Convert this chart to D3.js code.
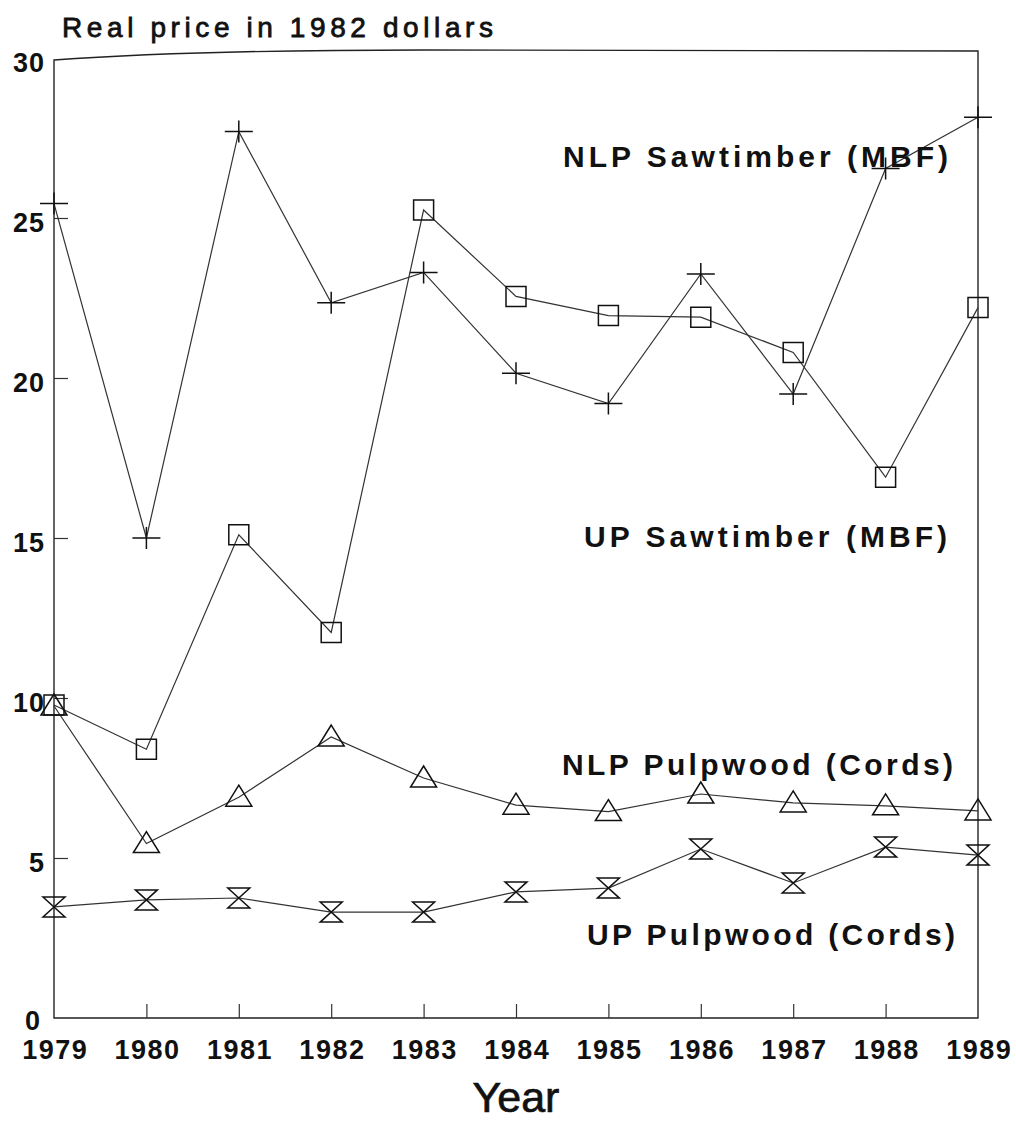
<!DOCTYPE html>
<html>
<head>
<meta charset="utf-8">
<script src="https://cdn.jsdelivr.net/npm/d3@7"></script>
<style>
  body { margin: 0; background: #fff; }
  svg { display: block; font-family: "Liberation Sans", Arial, sans-serif; }
</style>
</head>
<body>
<script>
const years = [1979, 1980, 1981, 1982, 1983, 1984, 1985, 1986, 1987, 1988, 1989];
const nlpSaw  = [25.45, 15.0, 27.7, 22.35, 23.3, 20.15, 19.2, 23.25, 19.5, 26.55, 28.15];
const upSaw   = [9.78, 8.4, 15.1, 12.05, 25.25, 22.55, 21.95, 21.9, 20.8, 16.9, 22.2];
const nlpPulp = [9.75, 5.45, 6.9, 8.78, 7.5, 6.65, 6.45, 7.0, 6.72, 6.63, 6.47];
const upPulp  = [3.47, 3.69, 3.75, 3.31, 3.31, 3.94, 4.06, 5.28, 4.22, 5.34, 5.09];
const yTicks = [0, 5, 10, 15, 20, 25, 30];

const width = 1016, height = 1122;
const svg = d3.select("body").append("svg")
  .attr("width", width)
  .attr("height", height);

svg.append("rect").attr("width", width).attr("height", height).attr("fill", "#fff");

const x = d3.scaleLinear().domain([1979, 1989]).range([54, 978]);
const y = d3.scaleLinear().domain([0, 30]).range([1018, 58]);

// frame (top edge is a bit skewed in the scan)
svg.append("path")
  .attr("d", `M${x(1979)},${y(0)} L${x(1979)},${y(30) + 2} Q${x(1980.5)},${y(30) - 8} ${x(1983)},${y(30) - 8} L${x(1989)},${y(30) - 7} L${x(1989)},${y(0)} Z`)
  .attr("fill", "none")
  .attr("stroke", "#222")
  .attr("stroke-width", 1.4);

// y axis
const yAxis = svg.append("g")
  .attr("transform", `translate(${x(1979)},0)`)
  .call(d3.axisLeft(y).tickValues(yTicks).tickSize(0).tickPadding(9).tickFormat(d3.format("d")));
yAxis.select(".domain").remove();
yAxis.selectAll(".tick line").remove();
yAxis.selectAll(".tick")
  .filter(d => d > 0 && d < 30)
  .append("line").attr("x1", 0).attr("x2", 14).attr("stroke", "#333").attr("stroke-width", 1.2);
yAxis.selectAll("text")
  .attr("font-size", 27).attr("font-weight", "bold").attr("fill", "#111")
  .attr("letter-spacing", 1).attr("dy", "0.5em");
yAxis.selectAll(".tick").filter(d => d === 0).select("text").attr("dx", -4).attr("dy", "0.42em");

// x axis
const xAxis = svg.append("g")
  .attr("transform", `translate(0,${y(0)})`)
  .call(d3.axisBottom(x).tickValues(years).tickSize(0).tickPadding(0).tickFormat(d3.format("d")));
xAxis.select(".domain").remove();
xAxis.selectAll(".tick").filter(d => d > 1979 && d < 1989)
  .append("line").attr("y1", 0).attr("y2", -14).attr("stroke", "#333").attr("stroke-width", 1.2);
xAxis.selectAll("text")
  .attr("font-size", 27).attr("font-weight", "bold").attr("fill", "#111")
  .attr("letter-spacing", 1.5).attr("dx", 0.7).attr("y", 41).attr("dy", 0);

// titles
svg.append("text")
  .attr("x", 62).attr("y", 37)
  .attr("font-size", 28).attr("fill", "#111")
  .attr("stroke", "#111").attr("stroke-width", 0.8)
  .attr("textLength", 431).attr("lengthAdjust", "spacing")
  .text("Real price in 1982 dollars");

svg.append("text")
  .attr("x", 516).attr("y", 1112).attr("text-anchor", "middle")
  .attr("font-size", 43).attr("fill", "#111")
  .attr("stroke", "#111").attr("stroke-width", 0.7)
  .text("Year");

// series
const line = d3.line().x((d, i) => x(years[i])).y(d => y(d));
const seriesList = [
  { name: "NLP Sawtimber (MBF)", values: nlpSaw, marker: "plus", lx: 563, ly: 167, lw: 385 },
  { name: "UP Sawtimber (MBF)", values: upSaw, marker: "square", lx: 584, ly: 547, lw: 363 },
  { name: "NLP Pulpwood (Cords)", values: nlpPulp, marker: "triangle", lx: 562, ly: 775, lw: 391 },
  { name: "UP Pulpwood (Cords)", values: upPulp, marker: "hourglass", lx: 587, ly: 945, lw: 368 }
];

const markerPath = {
  plus: "M-14,0H14M0,-11V11",
  square: "M-10,-10H10V10H-10Z",
  triangle: "M0,-12L13,9H-13Z",
  hourglass: "M-11,-10H11L-11,10H11Z"
};

seriesList.forEach(s => {
  svg.append("path")
    .datum(s.values)
    .attr("d", line)
    .attr("fill", "none")
    .attr("stroke", "#333")
    .attr("stroke-width", 1.2);

  svg.append("g")
    .selectAll("path")
    .data(s.values)
    .join("path")
    .attr("transform", (d, i) => `translate(${x(years[i])},${y(d)})`)
    .attr("d", markerPath[s.marker])
    .attr("fill", "none")
    .attr("stroke", "#111")
    .attr("stroke-width", 1.5);

  svg.append("text")
    .attr("x", s.lx).attr("y", s.ly)
    .attr("font-size", 30).attr("font-weight", "bold").attr("fill", "#111")
    .attr("textLength", s.lw).attr("lengthAdjust", "spacing")
    .text(s.name);
});
</script>
</body>
</html>
